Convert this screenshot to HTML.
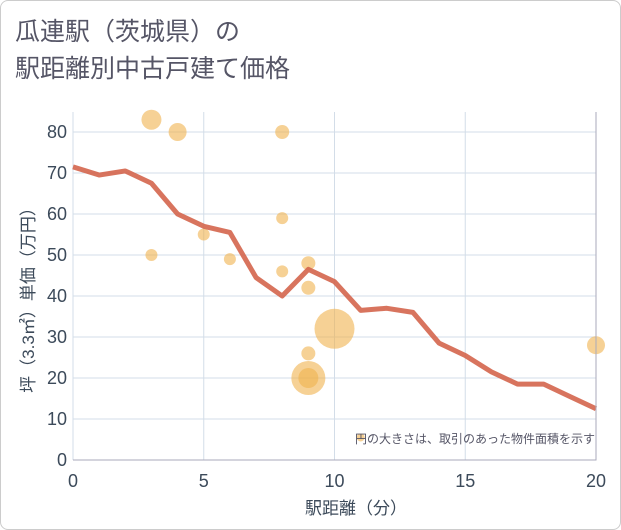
<!DOCTYPE html>
<html><head><meta charset="utf-8"><style>
body{margin:0;background:#fff;}
.wrap{position:relative;width:619px;height:528px;border:1px solid #ccc;border-radius:8px;background:#fff;font-family:"Liberation Sans","Noto Sans CJK JP",sans-serif;}
text{font-family:"Liberation Sans","Noto Sans CJK JP",sans-serif;}
</style></head><body>
<div class="wrap">
<svg id="chart" width="621" height="530" style="position:absolute;left:-1px;top:-1px">
<text x="15" y="40" font-size="25" fill="#556">瓜連駅（茨城県）の</text>
<text x="15" y="77" font-size="25" fill="#556">駅距離別中古戸建て価格</text>
<g id="grid"></g><g id="bubbles"></g><g id="line"></g><g id="axes"></g>
<text x="595" y="443" font-size="12" fill="#556" text-anchor="end">円の大きさは、取引のあった物件面積を示す</text>
<text x="356" y="514" font-size="17" fill="#3c4a5a" text-anchor="middle">駅距離（分）</text>
<text transform="translate(34,296) rotate(-90)" font-size="17" fill="#3c4a5a" text-anchor="middle">坪（3.3㎡）単価（万円）</text>
</svg>
</div>
<script>
const lineX=[0,1,2,3,4,5,6,7,8,9,10,11,12,13,14,15,16,17,18,19,20];
const lineY=[71.5,69.5,70.5,67.5,60,57,55.5,44.5,40,46.5,43.5,36.5,37,36,28.5,25.5,21.5,18.5,18.5,15.5,12.5];
const bubX=[3,4,8,8,3,5,6,8,9,9,10,9,9,9,11,20];
const bubY=[83,80,80,59,50,55,49,46,48,42,32,26,20,20,5.5,28];
const bubR=[10,9,7,6,6,6,6,6,7,7,20,7,17,10,4,9];
const xTicks=[0,5,10,15,20];
const yTicks=[0,10,20,30,40,50,60,70,80];
const NS="http://www.w3.org/2000/svg";
const X0=73,X1=596,Y0=460,Y1=132;
const sx=v=>X0+(v-0)/20*(X1-X0);
const sy=v=>Y0-(v/80)*(Y0-Y1);
function mk(tag,attrs,parent){const e=document.createElementNS(NS,tag);for(const k in attrs)e.setAttribute(k,attrs[k]);document.getElementById(parent).appendChild(e);return e;}
xTicks.forEach(t=>{
 const l=mk('line',{x1:sx(t),x2:sx(t),y1:112,y2:Y0,stroke:'#d3dde8','stroke-width':1},'grid');
 
 
 const tx=mk('text',{x:sx(t),y:487,'font-size':18,fill:'#3c4a5a','text-anchor':'middle'},'axes');
 tx.textContent=t;
 
 
});
yTicks.forEach(t=>{
 const l=mk('line',{x1:X0,x2:X1,y1:sy(t),y2:sy(t),stroke:'#d3dde8','stroke-width':1},'grid');
 
 
 const tx=mk('text',{x:67,y:sy(t)+6,'font-size':18,fill:'#3c4a5a','text-anchor':'end'},'axes');
 tx.textContent=t;
 
 
});
const ax=mk('path',{d:`M${X0} ${Y0}H${X1}V112`,stroke:'#aab',fill:'none','stroke-width':1},'axes');


bubX.forEach((v,i)=>{
 const c=mk('circle',{cx:sx(v),cy:sy(bubY[i]),r:bubR[i],fill:'#f0b24f','fill-opacity':0.6},'bubbles');
 
 
});
const p=mk('polyline',{points:lineX.map((v,i)=>sx(v)+','+sy(lineY[i])).join(' '),fill:'none',stroke:'#d4654c','stroke-width':5,'stroke-linejoin':'round','stroke-opacity':0.9},'line');


</script>
</body></html>
